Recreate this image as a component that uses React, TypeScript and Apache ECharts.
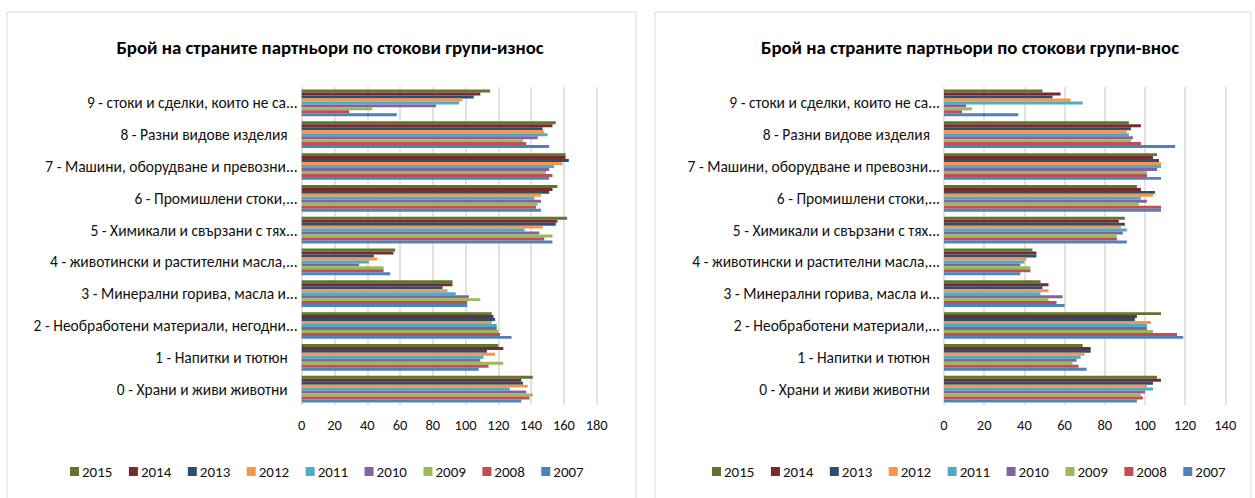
import React, { useEffect, useRef } from "react";
import * as echarts from "echarts";

const years = ["2015", "2014", "2013", "2012", "2011", "2010", "2009", "2008", "2007"];
const colors = ["#5F7530", "#772C2A", "#2C4D75", "#F79646", "#4BACC6", "#8064A2", "#9BBB59", "#C0504D", "#4F81BD"];

const exportCategories = [
  "0 - Храни и живи животни",
  "1 - Напитки и тютюн",
  "2 - Необработени материали, негодни...",
  "3 - Минерални горива, масла и...",
  "4 - животински и растителни масла,...",
  "5 - Химикали и свързани с тях...",
  "6 - Промишлени стоки,...",
  "7 - Машини, оборудване и превозни...",
  "8 - Разни видове изделия",
  "9 - стоки и сделки, които не са...",
];
const importCategories = [
  "0 - Храни и живи животни",
  "1 - Напитки и тютюн",
  "2 - Необработени материали,...",
  "3 - Минерални горива, масла и...",
  "4 - животински и растителни масла,...",
  "5 - Химикали и свързани с тях...",
  "6 - Промишлени стоки,...",
  "7 - Машини, оборудване и превозни...",
  "8 - Разни видове изделия",
  "9 - стоки и сделки, които не са...",
];

// Export (износ), categories 0..9
const exp2015 = [141, 120, 116, 92, 57, 162, 156, 161, 155, 115];
const exp2014 = [134, 123, 117, 92, 56, 156, 153, 161, 153, 109];
const exp2013 = [135, 113, 118, 86, 44, 155, 151, 163, 147, 105];
const exp2012 = [138, 118, 116, 89, 46, 147, 146, 159, 148, 98];
const exp2011 = [127, 111, 119, 94, 41, 136, 142, 154, 150, 96];
const exp2010 = [137, 109, 119, 102, 35, 145, 146, 151, 144, 82];
const exp2009 = [141, 123, 120, 109, 50, 153, 144, 149, 135, 43];
const exp2008 = [139, 114, 121, 101, 50, 148, 143, 153, 137, 29];
const exp2007 = [134, 108, 128, 101, 54, 153, 146, 151, 151, 58];

// Import (внос), categories 0..9
const imp2015 = [106, 69, 108, 48, 44, 90, 96, 106, 92, 49];
const imp2014 = [108, 73, 96, 52, 46, 87, 98, 104, 98, 58];
const imp2013 = [104, 73, 95, 49, 46, 90, 105, 107, 93, 54];
const imp2012 = [101, 70, 103, 52, 41, 88, 104, 108, 91, 63];
const imp2011 = [104, 68, 101, 48, 40, 91, 98, 108, 92, 69];
const imp2010 = [100, 66, 101, 59, 38, 89, 101, 106, 94, 11];
const imp2009 = [98, 64, 104, 52, 43, 86, 97, 101, 93, 14];
const imp2008 = [99, 67, 116, 56, 43, 86, 108, 101, 98, 9];
const imp2007 = [96, 71, 119, 60, 38, 91, 108, 108, 115, 37];

const exportTicks = [0, 20, 40, 60, 80, 100, 120, 140, 160, 180];
const importTicks = [0, 20, 40, 60, 80, 100, 120, 140];

const exportSeries = [exp2015, exp2014, exp2013, exp2012, exp2011, exp2010, exp2009, exp2008, exp2007];
const importSeries = [imp2015, imp2014, imp2013, imp2012, imp2011, imp2010, imp2009, imp2008, imp2007];

const FONT = "Carlito, Calibri, 'Open Sans', sans-serif";
const LABEL_SIZE = 15.5;

export default function App() {
  const ref = useRef<HTMLDivElement>(null);
  useEffect(() => {
    if (!ref.current) return;
    const chart = echarts.init(ref.current, null, { renderer: "svg" });
    const mkX = (gi: number, ticks: number[]) => ({
      type: "value",
      gridIndex: gi,
      min: ticks[0],
      max: ticks[ticks.length - 1],
      interval: 20,
      axisLine: { show: false },
      axisTick: { show: false },
      splitLine: { show: true, lineStyle: { color: "#D9D9D9", width: 1.5 } },
      axisLabel: { color: "#111", fontSize: 14.5, fontFamily: FONT, margin: 12 },
    });
    const mkY = (gi: number, cats: string[]) => ({
      type: "category",
      gridIndex: gi,
      data: cats,
      axisLine: { show: false },
      axisTick: { show: false },
      axisLabel: {
        color: "#111",
        fontSize: LABEL_SIZE,
        fontFamily: FONT,
        margin: 4,
        formatter: (v: string) => (v.endsWith("...") ? `{t|${v}}` : `{p|${v}}`),
        rich: {
          t: { color: "#111", fontSize: LABEL_SIZE, fontFamily: FONT },
          p: { color: "#111", fontSize: LABEL_SIZE, fontFamily: FONT, padding: [0, 10, 0, 0] },
        },
      },
    });
    const series: any[] = [];
    years.forEach((y, i) => {
      series.push({
        name: y,
        type: "bar",
        xAxisIndex: 0,
        yAxisIndex: 0,
        data: exportSeries[i],
        itemStyle: { color: colors[i] },
        barGap: "0%",
        barCategoryGap: "16%",
      });
    });
    years.forEach((y, i) => {
      series.push({
        name: y,
        type: "bar",
        xAxisIndex: 1,
        yAxisIndex: 1,
        data: importSeries[i],
        itemStyle: { color: colors[i] },
        barGap: "0%",
        barCategoryGap: "16%",
      });
    });
    const legendCommon = {
      data: years,
      itemWidth: 9,
      itemHeight: 9,
      itemGap: 16.5,
      icon: "rect",
      textStyle: { color: "#111", fontSize: 15, fontFamily: FONT, padding: [0, 0, 0, -2] },
      top: 459,
      selectedMode: false,
    };
    chart.setOption({
      animation: false,
      graphic: [
        { type: "rect", shape: { x: 7, y: 12, width: 629, height: 500 }, style: { fill: "#fff", stroke: "#D9D9D9", lineWidth: 1 }, z: -10, silent: true },
        { type: "rect", shape: { x: 655, y: 12, width: 596, height: 500 }, style: { fill: "#fff", stroke: "#D9D9D9", lineWidth: 1 }, z: -10, silent: true },
      ],
      title: [
        { text: "Брой на страните партньори по стокови групи-износ", left: 325, top: 33, textAlign: "center", textStyle: { fontSize: 18.8, fontWeight: "bold", color: "#000", fontFamily: FONT } },
        { text: "Брой на страните партньори по стокови групи-внос", left: 965, top: 33, textAlign: "center", textStyle: { fontSize: 18.8, fontWeight: "bold", color: "#000", fontFamily: FONT } },
      ],
      legend: [
        { ...legendCommon, left: 65 },
        { ...legendCommon, left: 707 },
      ],
      grid: [
        { left: 301.7, width: 295, top: 87, height: 318 },
        { left: 944, width: 281.3, top: 87, height: 318 },
      ],
      xAxis: [mkX(0, exportTicks), mkX(1, importTicks)],
      yAxis: [mkY(0, exportCategories), mkY(1, importCategories)],
      series,
    });
    return () => chart.dispose();
  }, []);
  return <div ref={ref} style={{ position: "absolute", left: 0, top: 0, width: 1255, height: 498 }} />;
}
